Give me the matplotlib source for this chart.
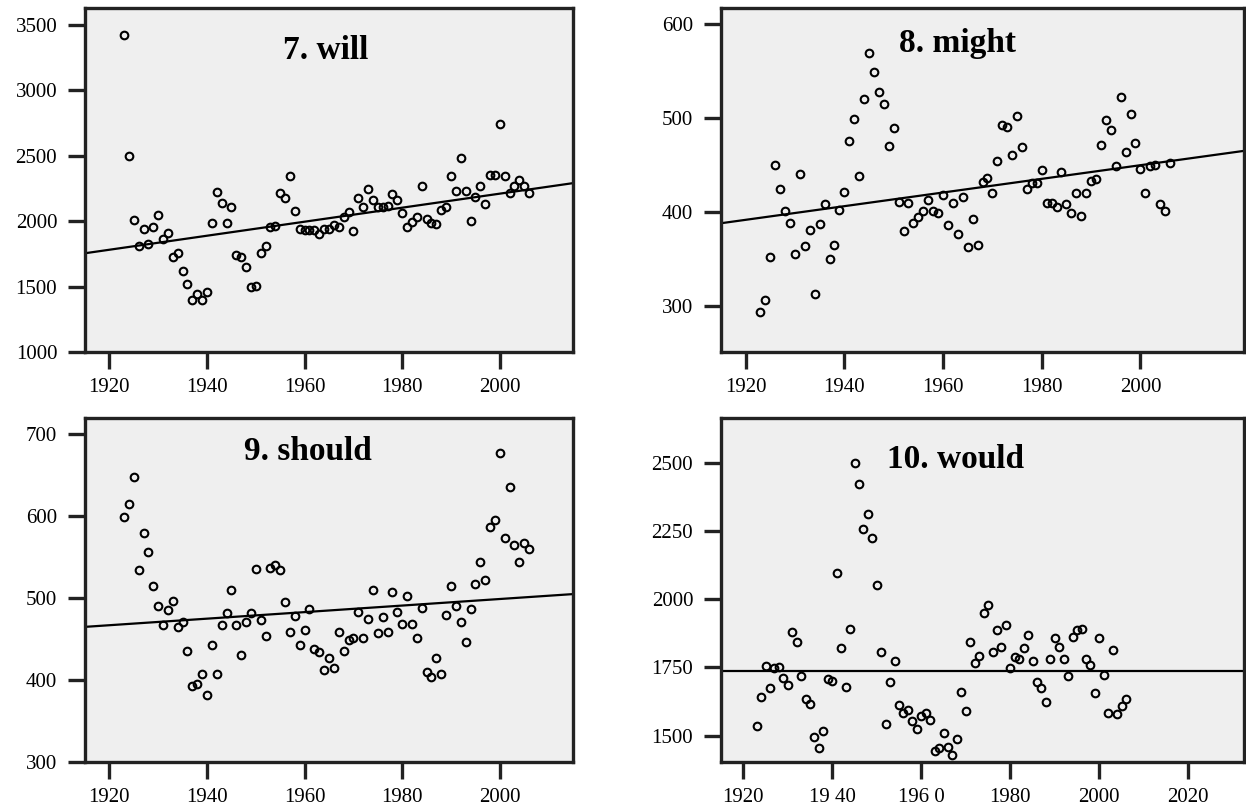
import numpy as np
import matplotlib
matplotlib.use('Agg')
from matplotlib import pyplot as plt

plt.rcParams['font.family'] = ['Liberation Serif', 'DejaVu Serif']

years = list(range(1923, 2007))

will = [3423, 2502, 2011, 1811, 1939, 1829, 1952, 2049, 1862, 1908,
        1727, 1760, 1619, 1517, 1397, 1445, 1397, 1458, 1983, 2221,
        2136, 1983, 2105, 1740, 1727, 1653, 1499, 1504, 1755, 1811,
        1957, 1965, 2216, 2175, 2343, 2080, 1944, 1931, 1931, 1931,
        1901, 1939, 1944, 1972, 1957, 2029, 2067, 1926, 2175, 2105,
        2246, 2162, 2105, 2111, 2118, 2208, 2162, 2062, 1957, 1995,
        2029, 2267, 2016, 1990, 1978, 2085, 2111, 2349, 2228, 2482,
        2233, 1998, 2187, 2272, 2131, 2354, 2354, 2740, 2349, 2213,
        2272, 2315, 2272, 2213]

might = [294, 306, 352, 450, 424, 401, 388, 355, 440, 364,
         381, 313, 387, 408, 350, 365, 402, 421, 476, 499,
         438, 520, 569, 549, 528, 515, 470, 489, 411, 380,
         410, 388, 395, 401, 413, 401, 399, 418, 386, 409,
         377, 416, 363, 392, 365, 432, 436, 420, 454, 493,
         490, 461, 502, 469, 424, 431, 431, 445, 409, 409,
         405, 442, 408, 399, 420, 396, 420, 433, 435, 471,
         498, 487, 449, 522, 464, 504, 473, 446, 420, 449,
         450, 408, 401, 452]

should = [599, 615, 648, 534, 579, 556, 515, 490, 467, 486,
          497, 465, 471, 436, 393, 395, 408, 382, 443, 407,
          467, 482, 510, 467, 431, 471, 482, 536, 473, 454,
          537, 540, 534, 495, 459, 478, 443, 461, 487, 438,
          434, 412, 427, 415, 459, 436, 449, 451, 483, 451,
          475, 510, 458, 477, 459, 507, 483, 468, 503, 468,
          451, 488, 410, 404, 427, 407, 480, 515, 491, 471,
          446, 487, 517, 544, 522, 587, 595, 677, 573, 636,
          565, 544, 567, 560]

would = [1534, 1641, 1754, 1675, 1748, 1751, 1711, 1685, 1879, 1842,
         1718, 1634, 1616, 1494, 1455, 1518, 1708, 1699, 2097, 1822,
         1678, 1889, 2500, 2421, 2255, 2311, 2225, 2051, 1807, 1543,
         1697, 1773, 1611, 1583, 1595, 1555, 1524, 1571, 1583, 1556,
         1445, 1455, 1510, 1457, 1430, 1488, 1659, 1589, 1842, 1767,
         1793, 1947, 1978, 1807, 1885, 1824, 1905, 1748, 1787, 1782,
         1822, 1868, 1773, 1696, 1675, 1622, 1782, 1856, 1824, 1782,
         1718, 1862, 1885, 1889, 1782, 1760, 1656, 1858, 1721, 1583,
         1812, 1577, 1608, 1632]

titles = ['7. will', '8. might', '9. should', '10. would']
series = [will, might, should, would]

# fitted trend line, value at left and right edge of each panel
fit_ends = [(1755, 2291), (388, 465), (465, 505), (1738, 1738)]

xticks_main = [1920, 1940, 1960, 1980, 2000]
xticks_would = [1920, 1940, 1960, 1980, 2000, 2020]
xlabels_would = ['1920', '19 40', '196 0', '1980', '2000', '2020']

yticks = [[1000, 1500, 2000, 2500, 3000, 3500],
          [300, 400, 500, 600],
          [300, 400, 500, 600, 700],
          [1500, 1750, 2000, 2250, 2500]]
ylims = [(1000, 3630), (251, 617), (300, 720), (1403, 2663)]
xlims = [(1915, 2015), (1915, 2021), (1915, 2015), (1915, 2032.5)]

# panel boxes in pixels: left, right, top, bottom
W, H = 1246, 811
boxes = [(85, 573, 8, 352), (721, 1244, 8, 352),
         (85, 573, 418, 762), (721, 1244, 418, 762)]
title_pos = [(0.494, 0.877), (0.452, 0.898), (0.456, 0.904), (0.448, 0.88)]

fig = plt.figure(figsize=(W / 100, H / 100), dpi=100)

for i in range(4):
    l, r, t, b = boxes[i]
    ax = fig.add_axes([l / W, 1 - b / H, (r - l) / W, (b - t) / H])
    ax.set_facecolor('#efefef')
    for s in ax.spines.values():
        s.set_linewidth(2.4)
        s.set_color('#222222')

    ax.plot(years, series[i], 'o', ms=5.5, mfc='none', mec='black', mew=1.5)
    ax.plot(xlims[i], fit_ends[i], color='black', lw=1.6)

    ax.set_xlim(*xlims[i])
    ax.set_ylim(*ylims[i])
    ax.set_yticks(yticks[i])
    if i == 3:
        ax.set_xticks(xticks_would)
        ax.set_xticklabels(xlabels_would)
    else:
        ax.set_xticks(xticks_main)
    ax.tick_params(length=12, width=2.4, color='#222222', labelsize=15)
    ax.tick_params(axis='y', pad=8)
    ax.tick_params(axis='x', pad=7)

    ax.text(title_pos[i][0], title_pos[i][1], titles[i], transform=ax.transAxes,
            ha='center', va='center', fontsize=24, fontweight='bold')

fig.savefig('out.png', dpi=100)
